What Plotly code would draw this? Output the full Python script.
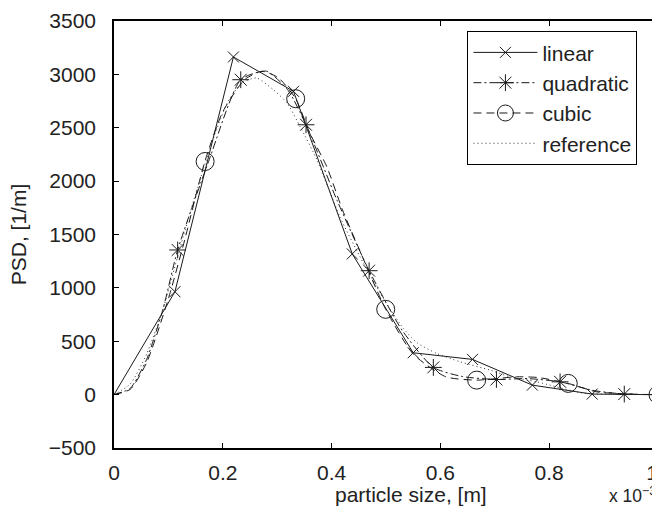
import plotly.graph_objects as go

# x values in units of 1e-3 m
lin_x = [0, 0.112, 0.2195, 0.330, 0.438, 0.550, 0.659, 0.769, 0.879, 0.989]
lin_y = [0, 964, 3163, 2841, 1318, 392, 330, 89, 5, 0]
lin_mx = [0.112, 0.2195, 0.330, 0.438, 0.550, 0.659, 0.769, 0.879]
lin_my = [964, 3163, 2841, 1318, 392, 330, 89, 5]

quad_x = [0, 0.03, 0.06, 0.09, 0.117, 0.175, 0.233, 0.28, 0.32, 0.353, 0.41, 0.469,
          0.53, 0.587, 0.64, 0.703, 0.76, 0.82, 0.88, 0.938, 1.0]
quad_y = [0, 60, 330, 800, 1355, 2200, 2950, 3030, 2850, 2528, 1820, 1161,
          600, 255, 170, 142, 150, 120, 40, 5, 0]
quad_mx = [0.117, 0.233, 0.353, 0.469, 0.587, 0.703, 0.82, 0.938]
quad_my = [1355, 2950, 2528, 1161, 255, 142, 120, 5]

cub_x = [0, 0.03, 0.06, 0.10, 0.13, 0.167, 0.20, 0.24, 0.272, 0.302, 0.334, 0.36,
         0.391, 0.42, 0.446, 0.4995, 0.55, 0.61, 0.667, 0.74, 0.78, 0.835, 0.887, 0.95, 1.0]
cub_y = [0, 50, 300, 900, 1450, 2184, 2650, 2950, 3028, 2969, 2772, 2450,
         2137, 1731, 1418, 799, 380, 167, 136, 167, 160, 105, 26, 5, 0]
cub_mx = [0.1675, 0.334, 0.4995, 0.6666, 0.835, 1.0]
cub_my = [2184, 2772, 799, 136, 105, 0]

ref_x = [0, 0.03, 0.06, 0.09, 0.12, 0.15, 0.186, 0.21, 0.235, 0.262, 0.293, 0.318,
         0.342, 0.373, 0.415, 0.452, 0.50, 0.532, 0.556, 0.593, 0.636, 0.691, 0.728,
         0.777, 0.862, 0.93, 1.0]
ref_y = [0, 100, 380, 800, 1350, 1880, 2450, 2750, 2920, 2966, 2856, 2732,
         2512, 2200, 1668, 1293, 860, 620, 490, 386, 308, 230, 167,
         120, 14, 3, 0]

xticks = [0, 0.2, 0.4, 0.6, 0.8, 1.0]
xticklabels = ["0", "0.2", "0.4", "0.6", "0.8", "1\u2007"]
yticks = [-500, 0, 500, 1000, 1500, 2000, 2500, 3000, 3500]
yticklabels = ["\u2212500", "0", "500", "1000", "1500", "2000", "2500", "3000", "3500"]

C = "#1a1a1a"
FONT = "Liberation Sans, Arial, Helvetica"
FS = 21
DASH = "8px,5px"
DASHDOT = "8px,3px,2px,3px"
DOT = "1px,3px"

fig = go.Figure()

# lines
fig.add_trace(go.Scatter(x=lin_x, y=lin_y, mode="lines", line=dict(color=C, width=1),
                         showlegend=False, hoverinfo="skip"))
fig.add_trace(go.Scatter(x=quad_x, y=quad_y, mode="lines",
                         line=dict(color=C, width=1, dash=DASHDOT, shape="spline", smoothing=0.6),
                         showlegend=False, hoverinfo="skip"))
fig.add_trace(go.Scatter(x=cub_x, y=cub_y, mode="lines",
                         line=dict(color=C, width=1, dash=DASH, shape="spline", smoothing=0.6),
                         showlegend=False, hoverinfo="skip"))
fig.add_trace(go.Scatter(x=ref_x, y=ref_y, mode="lines",
                         line=dict(color="#333", width=1, dash=DOT, shape="spline", smoothing=0.6),
                         showlegend=False, hoverinfo="skip"))

# markers
mk_lin = dict(symbol="x-thin-open", size=11, color=C, line=dict(color=C, width=1))
mk_quad = dict(symbol="asterisk-open", size=14, color=C, line=dict(color=C, width=1))
mk_cub = dict(symbol="circle-open", size=18, color=C, line=dict(color=C, width=1))
fig.add_trace(go.Scatter(x=lin_mx, y=lin_my, mode="markers", marker=mk_lin, showlegend=False))
fig.add_trace(go.Scatter(x=quad_mx, y=quad_my, mode="markers", marker=mk_quad, showlegend=False))
fig.add_trace(go.Scatter(x=cub_mx, y=cub_my, mode="markers", marker=mk_cub, showlegend=False))

# legend entries
fig.add_trace(go.Scatter(x=[None], y=[None], mode="lines+markers", name="linear",
                         line=dict(color=C, width=1), marker=mk_lin, legendgroup="a"))
fig.add_trace(go.Scatter(x=[None], y=[None], mode="lines+markers", name="quadratic",
                         line=dict(color=C, width=1, dash=DASHDOT), marker=mk_quad, legendgroup="b"))
fig.add_trace(go.Scatter(x=[None], y=[None], mode="lines+markers", name="cubic",
                         line=dict(color=C, width=1, dash=DASH), marker=mk_cub, legendgroup="c"))
fig.add_trace(go.Scatter(x=[None], y=[None], mode="lines", name="reference",
                         line=dict(color="#333", width=1, dash=DOT), legendgroup="d"))

axis_common = dict(showgrid=False, zeroline=False, showline=True, linecolor="black",
                   linewidth=1.5, mirror="ticks", ticks="inside", ticklen=5, tickcolor="black",
                   tickwidth=1, ticklabeloverflow="allow",
                   tickfont=dict(family=FONT, size=FS, color="#222"))

# page has an 8px body margin: figure is offset by 8px in the window
fig.update_layout(
    width=652, height=508,
    margin=dict(l=106, r=2, t=13.4, b=68.2, autoexpand=False),
    plot_bgcolor="white", paper_bgcolor="white",
    font=dict(family=FONT, size=FS, color="#222"),
    xaxis=dict(range=[0, 1.0], tickvals=xticks, ticktext=xticklabels,
               ticklabelstandoff=5, **axis_common),
    yaxis=dict(range=[-500, 3500], tickvals=yticks, ticktext=yticklabels,
               ticklabelstandoff=12, **axis_common),
    legend=dict(x=0.6497, xanchor="left", y=0.976, yanchor="top",
                bordercolor="black", borderwidth=1, bgcolor="white",
                traceorder="grouped", tracegroupgap=0, itemwidth=64,
                font=dict(family=FONT, size=FS, color="#222")),
    annotations=[
        dict(text="particle size, [m]", xref="paper", yref="paper", x=0.546, y=-0.108,
             xanchor="center", yanchor="middle", showarrow=False,
             font=dict(family=FONT, size=FS, color="#222")),
        dict(text="PSD, [1/m]", xref="paper", yref="paper", x=-0.175, y=0.5,
             xanchor="center", yanchor="middle", showarrow=False, textangle=-90,
             font=dict(family=FONT, size=FS, color="#222")),
        dict(text="x 10<sup>\u22123</sup>", xref="paper", yref="paper",
             x=0.907, y=-0.11, xanchor="left", yanchor="middle", showarrow=False,
             font=dict(family=FONT, size=17.5, color="#222")),
    ],
    showlegend=True,
)

fig.write_html("out.html")
